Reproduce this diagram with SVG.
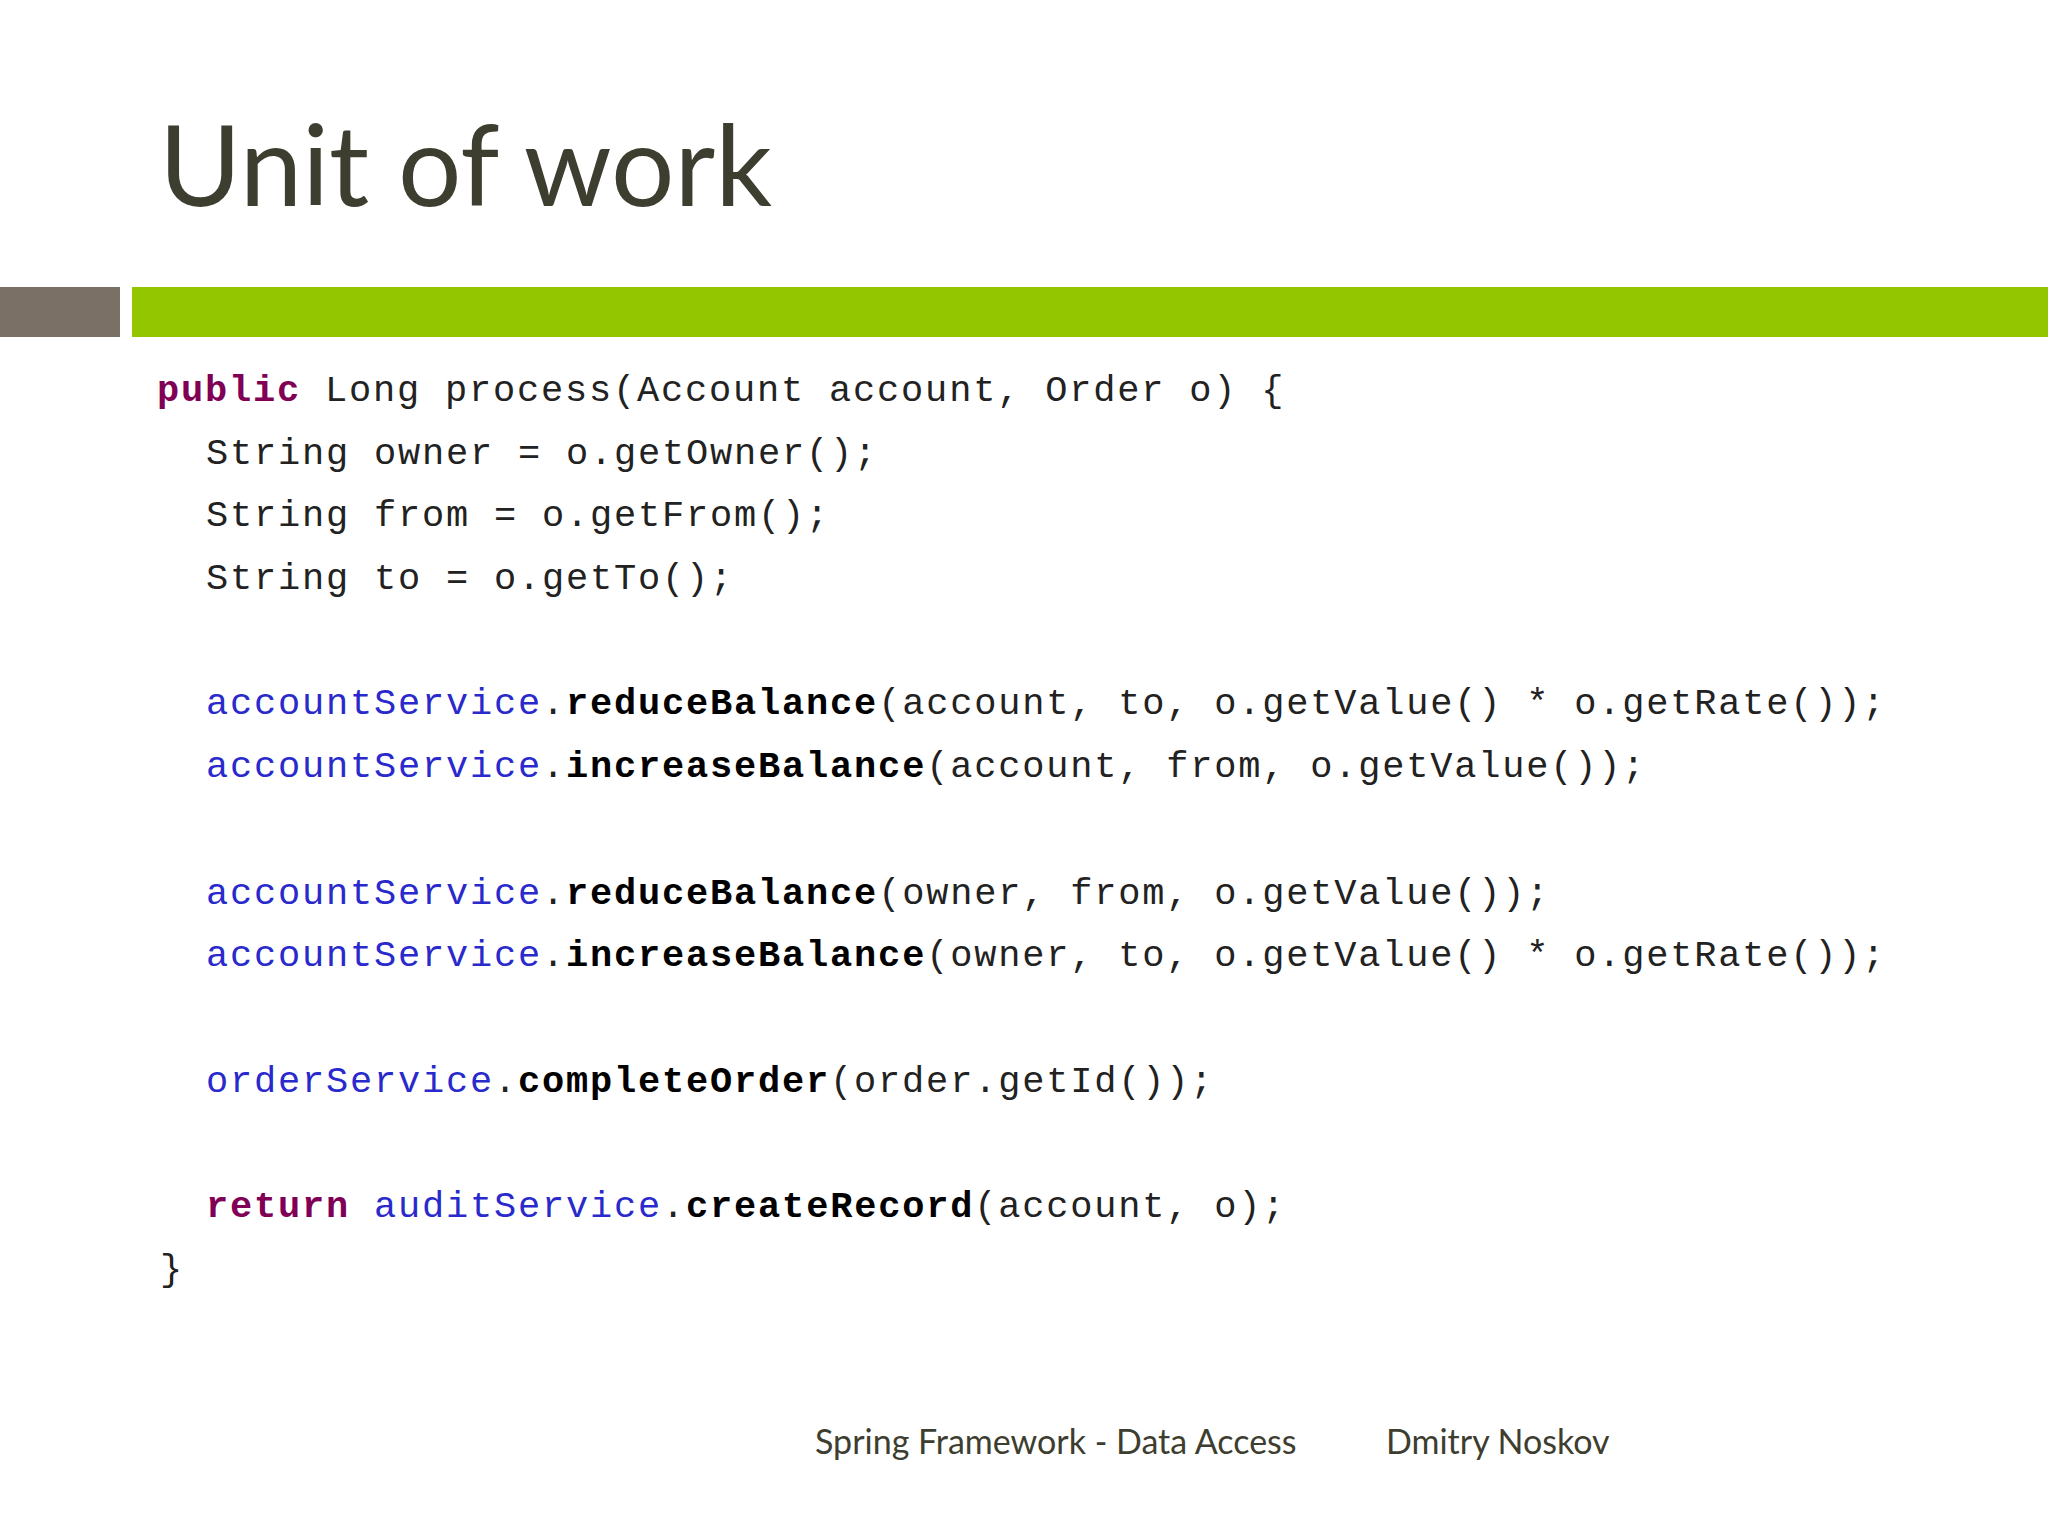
<svg xmlns="http://www.w3.org/2000/svg" width="2048" height="1536" viewBox="0 0 2048 1536">
<style>
.code{font-family:"Liberation Mono","Courier New",monospace;font-size:37px;letter-spacing:1.8px;fill:#222;white-space:pre}
.k{fill:#7f0055;font-weight:bold}
.s{fill:#2a2acc}
.b{font-weight:bold;fill:#000}
.foot{font-family:Lato,"Noto Sans",sans-serif;font-size:34px;fill:#3d3d30}
</style>
<rect width="2048" height="1536" fill="#fff"/>
<g id="title"><text x="159" y="206" font-family="Lato,'Noto Sans',sans-serif" font-size="112" fill="#3d3d30">Unit of work</text></g>
<g id="bars">
<rect x="0" y="287" width="120" height="50" fill="#7a7066"/>
<rect x="132" y="287" width="1916" height="50" fill="#94c600"/>
</g>
<g id="code" class="code" xml:space="preserve">
<text x="157" y="401"><tspan class="k">public</tspan> Long process(Account account, Order o) {</text>
<text x="206" y="464">String owner = o.getOwner();</text>
<text x="206" y="526">String from = o.getFrom();</text>
<text x="206" y="589">String to = o.getTo();</text>
<text x="206" y="714"><tspan class="s">accountService</tspan>.<tspan class="b">reduceBalance</tspan>(account, to, o.getValue() * o.getRate());</text>
<text x="206" y="777"><tspan class="s">accountService</tspan>.<tspan class="b">increaseBalance</tspan>(account, from, o.getValue());</text>
<text x="206" y="904"><tspan class="s">accountService</tspan>.<tspan class="b">reduceBalance</tspan>(owner, from, o.getValue());</text>
<text x="206" y="966"><tspan class="s">accountService</tspan>.<tspan class="b">increaseBalance</tspan>(owner, to, o.getValue() * o.getRate());</text>
<text x="206" y="1092"><tspan class="s">orderService</tspan>.<tspan class="b">completeOrder</tspan>(order.getId());</text>
<text x="206" y="1217"><tspan class="k">return</tspan> <tspan class="s">auditService</tspan>.<tspan class="b">createRecord</tspan>(account, o);</text>
<text x="160" y="1280">}</text>
</g>
<g id="footer">
<text class="foot" x="815" y="1454">Spring Framework - Data Access</text>
<text class="foot" x="1386" y="1454">Dmitry Noskov</text>
</g>
</svg>
